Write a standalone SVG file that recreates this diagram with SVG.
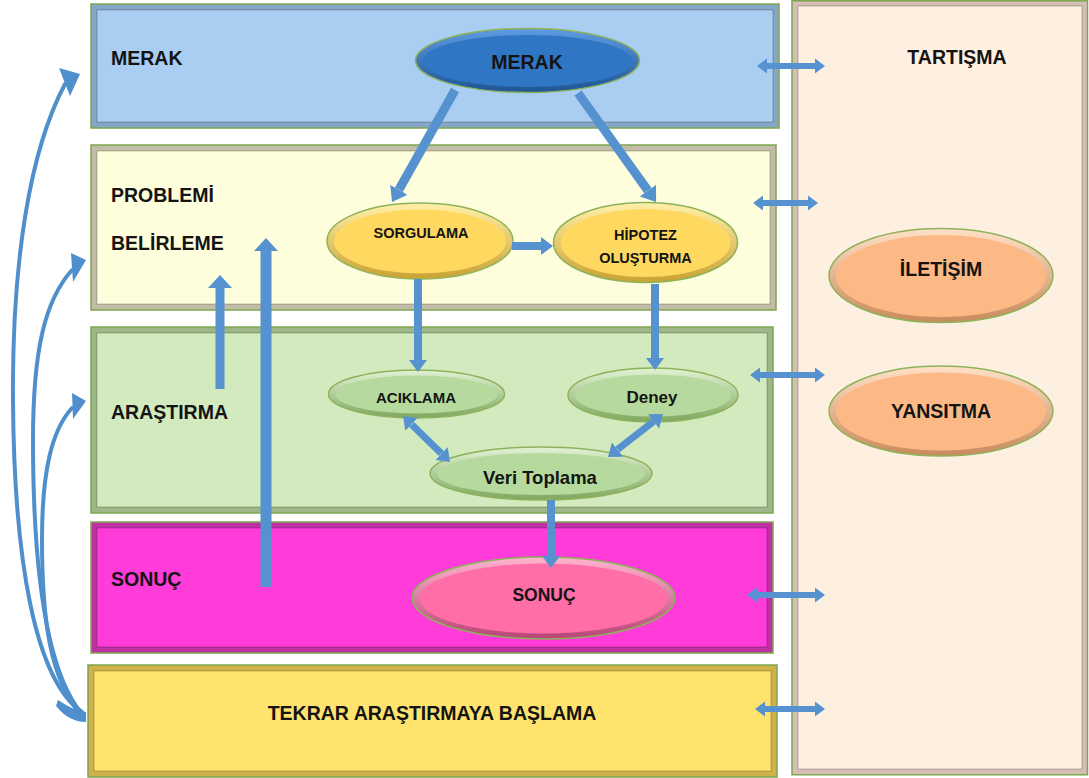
<svg xmlns="http://www.w3.org/2000/svg" width="1089" height="778" viewBox="0 0 1089 778">
<style>
.t{font-family:"Liberation Sans",Arial,sans-serif;font-weight:bold;fill:#141414}
.band{stroke:#7ea64e;stroke-width:1.5}
.in{stroke-opacity:0.3;stroke:#000;stroke-width:0.8}
.ar{stroke:#5592cf;fill:none}
.cv{stroke:#4f8fcc;fill:none;stroke-width:4;stroke-linecap:round}
.hd{fill:#4f8fcc}
.eo{stroke:#8db25a;stroke-width:1.5}
</style>
<defs>
<marker id="hb" markerUnits="userSpaceOnUse" markerWidth="14" markerHeight="22" viewBox="0 -11 14 22" refX="0" refY="0" orient="auto-start-reverse"><path d="M0,-10 L14,0 L0,10 z" fill="#5592cf"/></marker>
<marker id="hm" markerUnits="userSpaceOnUse" markerWidth="12" markerHeight="20" viewBox="0 -10 12 20" refX="0" refY="0" orient="auto-start-reverse"><path d="M0,-9 L12,0 L0,9 z" fill="#5592cf"/></marker>
<marker id="hs" markerUnits="userSpaceOnUse" markerWidth="10" markerHeight="16" viewBox="0 -8 10 16" refX="0" refY="0" orient="auto-start-reverse"><path d="M0,-7.5 L10,0 L0,7.5 z" fill="#5592cf"/></marker>
<marker id="hu" markerUnits="userSpaceOnUse" markerWidth="13" markerHeight="26" viewBox="0 -13 13 26" refX="0" refY="0" orient="auto-start-reverse"><path d="M0,-12 L13,0 L0,12 z" fill="#5592cf"/></marker>
<linearGradient id="gBlue" x1="0" y1="0" x2="0" y2="1"><stop offset="0" stop-color="#5f9be0"/><stop offset="1" stop-color="#1d5594"/></linearGradient>
<linearGradient id="gYel" x1="0" y1="0" x2="0" y2="1"><stop offset="0" stop-color="#fff0a8"/><stop offset="1" stop-color="#c9a233"/></linearGradient>
<linearGradient id="gGrn" x1="0" y1="0" x2="0" y2="1"><stop offset="0" stop-color="#e2f2d4"/><stop offset="1" stop-color="#7fa85f"/></linearGradient>
<linearGradient id="gPnk" x1="0" y1="0" x2="0" y2="1"><stop offset="0" stop-color="#ffb3cf"/><stop offset="1" stop-color="#b84576"/></linearGradient>
<linearGradient id="gOrg" x1="0" y1="0" x2="0" y2="1"><stop offset="0" stop-color="#ffe0c6"/><stop offset="1" stop-color="#c98a5c"/></linearGradient>
</defs>

<g id="panel-tartisma">
<rect class="band" x="792" y="0.75" width="295.5" height="774" fill="#d3bfb4"/>
<rect class="in" x="798" y="6" width="284" height="763" fill="#fef0e1"/>
<text class="t" x="957" y="64" font-size="19.5" text-anchor="middle">TARTIŞMA</text>
</g>
<g id="panel-merak">
<rect class="band" x="91" y="4" width="688" height="124" fill="#86a6c7"/>
<rect class="in" x="97" y="10" width="676" height="112" fill="#a9cef2"/>
<text class="t" x="111" y="65" font-size="19.5">MERAK</text>
</g>
<g id="panel-problem">
<rect class="band" x="91" y="145" width="685" height="165" fill="#c3bca8"/>
<rect class="in" x="97" y="151" width="673" height="153" fill="#fefedc"/>
<text class="t" x="111" y="202" font-size="19.5">PROBLEMİ</text>
<text class="t" x="111" y="250" font-size="19.5">BELİRLEME</text>
</g>
<g id="panel-arastirma">
<rect class="band" x="91" y="327" width="682" height="186" fill="#9db788"/>
<rect class="in" x="97" y="333" width="670" height="174" fill="#d3eabf"/>
<text class="t" x="111" y="419" font-size="19.5">ARAŞTIRMA</text>
</g>
<g id="panel-sonuc">
<rect class="band" x="91" y="522" width="682" height="131" fill="#bf30a3"/>
<rect class="in" x="97" y="528" width="670" height="119" fill="#ff3bd9"/>
<text class="t" x="111" y="586" font-size="19.5">SONUÇ</text>
</g>
<g id="panel-tekrar">
<rect class="band" x="88" y="665" width="689" height="112" fill="#cfb24a"/>
<rect class="in" x="94" y="671" width="677" height="100" fill="#ffe36d"/>
<text class="t" x="432" y="720" font-size="19.5" text-anchor="middle">TEKRAR ARAŞTIRMAYA BAŞLAMA</text>
</g>

<g id="node-merak">
<ellipse class="eo" cx="527.5" cy="60.5" rx="112" ry="32" fill="url(#gBlue)"/>
<ellipse cx="527.5" cy="61" rx="105" ry="26" fill="#2f76c4"/>
<text class="t" x="527" y="69" font-size="19.5" text-anchor="middle">MERAK</text>
</g>
<g id="node-sorgulama">
<ellipse class="eo" cx="420" cy="241" rx="93" ry="38" fill="url(#gYel)"/>
<ellipse cx="420" cy="241.5" rx="86" ry="32" fill="#ffd95f"/>
<text class="t" x="421" y="238" font-size="14.5" text-anchor="middle">SORGULAMA</text>
</g>
<g id="node-hipotez">
<ellipse class="eo" cx="645.5" cy="242.5" rx="92" ry="40" fill="url(#gYel)"/>
<ellipse cx="645.5" cy="243" rx="85" ry="34" fill="#ffd95f"/>
<text class="t" x="645.5" y="240" font-size="14.5" text-anchor="middle">HİPOTEZ</text>
<text class="t" x="645.5" y="263" font-size="14.5" text-anchor="middle">OLUŞTURMA</text>
</g>
<g id="node-aciklama">
<ellipse class="eo" cx="416.5" cy="394" rx="88" ry="24" fill="url(#gGrn)"/>
<ellipse cx="416.5" cy="394.5" rx="81" ry="19" fill="#b6da9d"/>
<text class="t" x="416" y="403" font-size="15" text-anchor="middle">ACIKLAMA</text>
</g>
<g id="node-deney">
<ellipse class="eo" cx="653" cy="395" rx="85" ry="27" fill="url(#gGrn)"/>
<ellipse cx="653" cy="395.5" rx="78" ry="21" fill="#b6da9d"/>
<text class="t" x="652" y="403" font-size="17" text-anchor="middle">Deney</text>
</g>
<g id="node-veri">
<ellipse class="eo" cx="541" cy="473.5" rx="111" ry="26.5" fill="url(#gGrn)"/>
<ellipse cx="541" cy="474" rx="104" ry="21" fill="#b6da9d"/>
<text class="t" x="540" y="484" font-size="18.5" text-anchor="middle">Veri Toplama</text>
</g>
<g id="node-sonuc">
<ellipse class="eo" cx="543.5" cy="598" rx="131.5" ry="41" fill="url(#gPnk)"/>
<ellipse cx="543.5" cy="598.5" rx="124" ry="35" fill="#ff6ea6"/>
<text class="t" x="544" y="601" font-size="17.5" text-anchor="middle">SONUÇ</text>
</g>
<g id="node-iletisim">
<ellipse class="eo" cx="941" cy="275.5" rx="112" ry="47" fill="url(#gOrg)"/>
<ellipse cx="941" cy="276" rx="105" ry="41" fill="#fdb985"/>
<text class="t" x="941" y="276" font-size="19.5" text-anchor="middle">İLETİŞİM</text>
</g>
<g id="node-yansitma">
<ellipse class="eo" cx="941" cy="411" rx="112" ry="45" fill="url(#gOrg)"/>
<ellipse cx="941" cy="411.5" rx="105" ry="39" fill="#fdb985"/>
<text class="t" x="941" y="418" font-size="19.5" text-anchor="middle">YANSITMA</text>
</g>

<g id="connectors">
<path class="cv" d="M82 712 C35 680 14 560 13 400 C12 260 30 150 65 84"/>
<polygon class="hd" points="59,68 80,74 70,96"/>
<path class="cv" d="M82 714 C45 670 33 560 33 440 C33 350 45 300 72 270"/>
<polygon class="hd" points="71,253 86,260 73,282"/>
<path class="cv" d="M82 716 C50 680 42 620 42 540 C42 470 52 430 72 408"/>
<polygon class="hd" points="72,393 86,401 73,419"/>
<path class="hd" d="M58 700 C70 708 80 712 86 712 L86 722 C74 722 64 716 56 706 z"/>

<line class="ar" x1="455" y1="90" x2="398.9" y2="189.8" stroke-width="9" marker-end="url(#hb)"/>
<line class="ar" x1="578" y1="93" x2="647.9" y2="190.6" stroke-width="9" marker-end="url(#hb)"/>
<line class="ar" x1="512" y1="246" x2="541" y2="246" stroke-width="8" marker-end="url(#hm)"/>
<line class="ar" x1="418" y1="279" x2="418" y2="360" stroke-width="8" marker-end="url(#hm)"/>
<line class="ar" x1="655" y1="284" x2="655" y2="358" stroke-width="8" marker-end="url(#hm)"/>
<line class="ar" x1="411.6" y1="424.4" x2="441.4" y2="453.6" stroke-width="7" marker-start="url(#hm)" marker-end="url(#hm)"/>
<line class="ar" x1="653.5" y1="421.4" x2="617.5" y2="449.6" stroke-width="7" marker-start="url(#hm)" marker-end="url(#hm)"/>
<line class="ar" x1="551" y1="500" x2="551" y2="556" stroke-width="8" marker-end="url(#hm)"/>
<line class="ar" x1="220" y1="389" x2="220" y2="288" stroke-width="9" marker-end="url(#hu)"/>
<line class="ar" x1="266" y1="587" x2="266" y2="251" stroke-width="11" marker-end="url(#hu)"/>

<line class="ar" x1="767" y1="66" x2="815" y2="66" stroke-width="6" marker-start="url(#hs)" marker-end="url(#hs)"/>
<line class="ar" x1="763" y1="203" x2="808" y2="203" stroke-width="6" marker-start="url(#hs)" marker-end="url(#hs)"/>
<line class="ar" x1="760" y1="375" x2="815" y2="375" stroke-width="6" marker-start="url(#hs)" marker-end="url(#hs)"/>
<line class="ar" x1="757" y1="595" x2="815" y2="595" stroke-width="6" marker-start="url(#hs)" marker-end="url(#hs)"/>
<line class="ar" x1="765" y1="709" x2="815" y2="709" stroke-width="6" marker-start="url(#hs)" marker-end="url(#hs)"/>
</g>
</svg>
